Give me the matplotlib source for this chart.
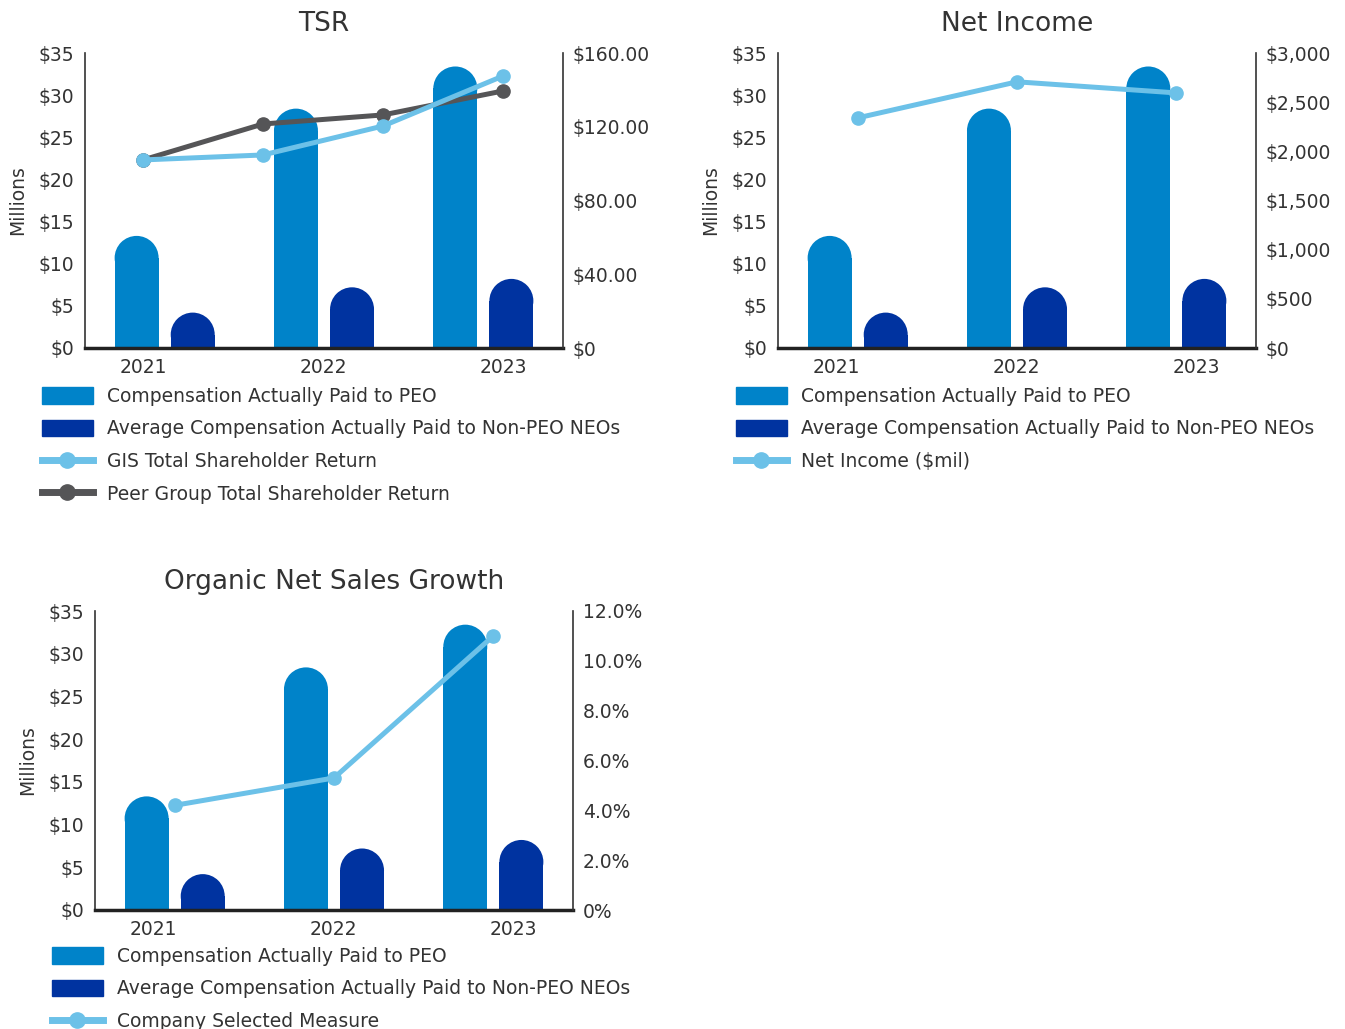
import numpy as np
import matplotlib
matplotlib.use('Agg')
import matplotlib.pyplot as plt
from matplotlib.patches import Ellipse, Patch
from matplotlib.lines import Line2D
from matplotlib.ticker import FuncFormatter

# Daten
years = ['2021', '2022', '2023']
peo_cap = [13.3, 28.4, 33.4]          # Mio $
neo_cap = [4.2, 7.2, 8.2]             # Mio $
gis_tsr = [102, 104.7, 120.4, 147.5]
peer_tsr = [102, 121.5, 126.4, 139.4]
net_income = [2340, 2707, 2594]        # $mil
organic_growth = [4.2, 5.3, 11.0]      # %

c_peo = '#0083C9'
c_neo = '#0033A0'
c_light = '#6CC1E8'
c_dark = '#555557'
c_text = '#333333'

plt.rcParams['font.family'] = ['DejaVu Sans']
plt.rcParams['text.color'] = c_text
plt.rcParams['axes.labelcolor'] = c_text
plt.rcParams['xtick.color'] = c_text
plt.rcParams['ytick.color'] = c_text

FS = 13.5
W, H = 1345, 1029
fig = plt.figure(figsize=(W / 100, H / 100), dpi=100)


def px_axes(x0, y0, x1, y1):
    return fig.add_axes([x0 / W, 1 - y1 / H, (x1 - x0) / W, (y1 - y0) / H])


x = np.arange(len(years))
bw = 0.276
off = 0.176
label_pos = [-0.136, 0.994, 2.123]


def panel(ax, title, right_max, right_ticks, right_fmt):
    ax.set_xlim(-0.5, 2.5)
    ax.set_ylim(0, 35)
    axh = ax.get_position().height * H
    ry = (bw * ax.get_position().width * W / 3) / 2 / axh * 35
    for xs, vals, col in [(x - off, peo_cap, c_peo), (x + off, neo_cap, c_neo)]:
        ax.bar(xs, np.array(vals) - ry, width=bw, color=col, zorder=2)
        for xi, v in zip(xs, vals):
            ax.add_patch(Ellipse((xi, v - ry), bw, 2 * ry, color=col, zorder=2, lw=0))
    ax.set_yticks(range(0, 36, 5))
    ax.yaxis.set_major_formatter(FuncFormatter(lambda v, p: f'${v:.0f}'))
    ax.set_xticks(label_pos)
    ax.set_xticklabels(years)
    ax.tick_params(length=0, labelsize=FS, pad=8)
    ax.tick_params(axis='x', pad=7)
    for s in ['top', 'right']:
        ax.spines[s].set_visible(False)
    ax.spines['left'].set_color(c_text)
    ax.spines['left'].set_linewidth(1.2)
    ax.spines['bottom'].set_color('#222222')
    ax.spines['bottom'].set_linewidth(2.5)
    ax.set_ylabel('Millions', fontsize=FS, labelpad=8)
    ax.set_title(title, fontsize=19, pad=16)
    ax2 = ax.twinx()
    ax2.set_ylim(0, right_max)
    ax2.set_yticks(right_ticks)
    ax2.yaxis.set_major_formatter(FuncFormatter(right_fmt))
    ax2.tick_params(length=0, labelsize=FS, pad=7)
    for s in ['top', 'left', 'bottom']:
        ax2.spines[s].set_visible(False)
    ax2.spines['right'].set_color(c_text)
    ax2.spines['right'].set_linewidth(1.2)
    return ax2


line_kw = dict(lw=3.6, marker='o', ms=9.5, zorder=3)

# TSR
ax1 = px_axes(85, 53, 563, 348)
ax1r = panel(ax1, 'TSR', 160, [0, 40, 80, 120, 160],
             lambda v, p: '$0' if v == 0 else f'${v:.2f}')
tsr_x = np.linspace(label_pos[0], label_pos[-1], len(gis_tsr))
ax1r.plot(tsr_x, peer_tsr, color=c_dark, **line_kw)
ax1r.plot(tsr_x, gis_tsr, color=c_light, **line_kw)

# Net Income
ax2 = px_axes(778, 53, 1256, 348)
ax2r = panel(ax2, 'Net Income', 3000, range(0, 3001, 500),
             lambda v, p: f'${v:,.0f}')
ax2r.plot(x, net_income, color=c_light, **line_kw)

# Organic Net Sales Growth
ax3 = px_axes(95, 611, 573, 910)
ax3r = panel(ax3, 'Organic Net Sales Growth', 12, range(0, 13, 2),
             lambda v, p: '0%' if v == 0 else f'{v:.1f}%')
ax3r.plot(x, organic_growth, color=c_light, **line_kw)

h_peo = Patch(color=c_peo, label='Compensation Actually Paid to PEO')
h_neo = Patch(color=c_neo, label='Average Compensation Actually Paid to Non-PEO NEOs')


def line_handle(col, lab):
    return Line2D([], [], color=col, lw=5, marker='o', ms=11, label=lab)


leg_kw = dict(frameon=False, fontsize=FS, borderpad=0, borderaxespad=0,
              handlelength=2.7, handleheight=1.0, handletextpad=0.75,
              labelspacing=0.72, loc='upper left', bbox_transform=fig.transFigure)

fig.legend(handles=[h_peo, h_neo, line_handle(c_light, 'GIS Total Shareholder Return'),
                    line_handle(c_dark, 'Peer Group Total Shareholder Return')],
           bbox_to_anchor=(42 / W, 1 - 387 / H), **leg_kw)
fig.legend(handles=[h_peo, h_neo, line_handle(c_light, 'Net Income ($mil)')],
           bbox_to_anchor=(736 / W, 1 - 387 / H), **leg_kw)
fig.legend(handles=[h_peo, h_neo, line_handle(c_light, 'Company Selected Measure')],
           bbox_to_anchor=(52 / W, 1 - 947 / H), **leg_kw)

fig.savefig('out.png', dpi=100)
